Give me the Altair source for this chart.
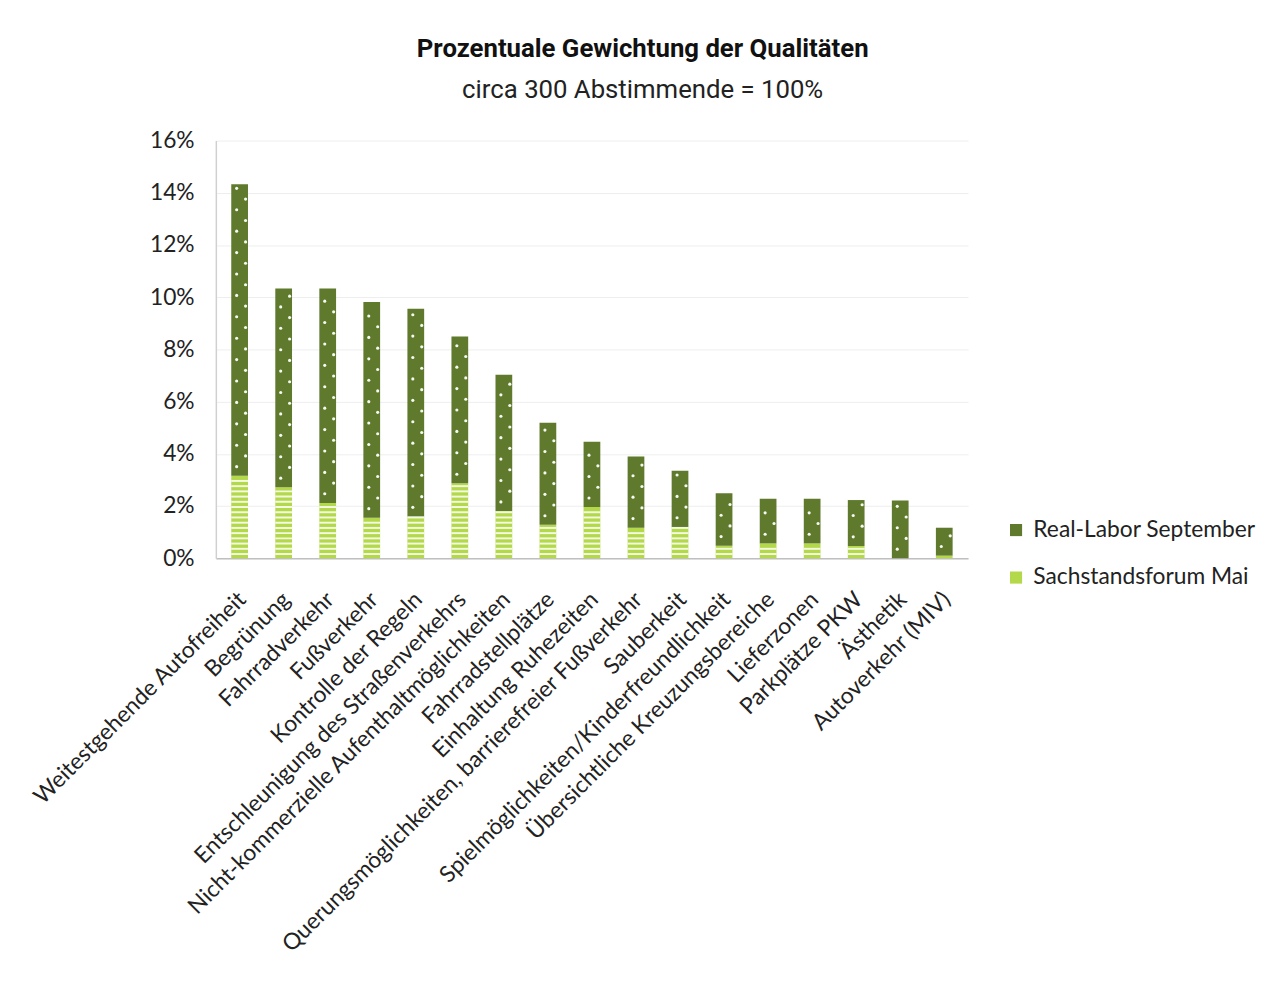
import altair as alt
import pandas as pd

categories = [
    "Weitestgehende Autofreiheit", "Begrünung", "Fahrradverkehr", "Fußverkehr",
    "Kontrolle der Regeln", "Entschleunigung des Straßenverkehrs",
    "Nicht-kommerzielle Aufenthaltmöglichkeiten", "Fahrradstellplätze",
    "Einhaltung Ruhezeiten", "Querungsmöglichkeiten, barrierefreier Fußverkehr",
    "Sauberkeit", "Spielmöglichkeiten/Kinderfreundlichkeit",
    "Übersichtliche Kreuzungsbereiche", "Lieferzonen", "Parkplätze PKW",
    "Ästhetik", "Autoverkehr (MIV)",
]
mai = [3.16, 2.72, 2.12, 1.55, 1.60, 2.87, 1.81, 1.28, 1.96, 1.17, 1.20, 0.48, 0.57, 0.57, 0.47, 0.0, 0.10]
september = [11.17, 7.61, 8.21, 8.27, 7.96, 5.63, 5.22, 3.91, 2.50, 2.73, 2.15, 2.01, 1.71, 1.71, 1.76, 2.21, 1.07]
series_names = ["Real-Labor September", "Sachstandsforum Mai"]
series_colors = ["#5f7a2c", "#b3d84a"]
y_ticks = [0, 2, 4, 6, 8, 10, 12, 14, 16]

rows = []
for c, m, s in zip(categories, mai, september):
    rows.append({"cat": c, "series": series_names[1], "lo": 0.0, "hi": m, "mai": m, "total": m + s})
    rows.append({"cat": c, "series": series_names[0], "lo": m, "hi": m + s, "mai": m, "total": m + s})
df = pd.DataFrame(rows)
wide = pd.DataFrame({"cat": categories, "mai": mai, "total": [m + s for m, s in zip(mai, september)]})

FONT = "Lato"
x_enc = alt.X("cat:N", sort=categories, scale=alt.Scale(paddingInner=0.62, paddingOuter=0.35),
              axis=alt.Axis(title=None, labelAngle=-45, labelFontSize=23, labelFont=FONT,
                            labelColor="#222222", ticks=False, labelPadding=30, labelOffset=-5,
                            domainColor="#bfbfbf", domainWidth=1.5, labelLimit=800))
y_scale = alt.Scale(domain=[0, 16], nice=False)

bars = alt.Chart(df).mark_bar().encode(
    x=x_enc,
    y=alt.Y("lo:Q", scale=y_scale,
            axis=alt.Axis(title=None, values=y_ticks, labelExpr="datum.value + '%'",
                          labelFontSize=23, labelFont=FONT, labelColor="#222222",
                          ticks=False, labelPadding=22, grid=True, gridColor="#eeeeee",
                          domainColor="#d0d0d0", domainWidth=1.5)),
    y2="hi:Q",
    color=alt.Color("series:N",
                    scale=alt.Scale(domain=series_names, range=series_colors),
                    legend=alt.Legend(title=None, orient="none", legendX=797, legendY=382,
                                      labelFontSize=23, labelFont=FONT, labelColor="#222222",
                                      labelLimit=600,
                                      symbolType="square", symbolSize=150, symbolStrokeWidth=0,
                                      rowPadding=24, labelOffset=6)),
)

stripes = alt.Chart(wide).transform_calculate(
    s="sequence(0.2, datum.mai + 0.01, 0.2)"
).transform_flatten(["s"]).transform_calculate(
    s0="datum.s - 0.075"
).mark_bar(color="white", opacity=0.85).encode(
    x=alt.X("cat:N", sort=categories), y="s0:Q", y2="s:Q"
)

dots_left = alt.Chart(wide).transform_calculate(
    d="sequence(datum.mai + 0.35, datum.total - 0.15, 0.82)"
).transform_flatten(["d"]).mark_circle(color="white", size=10, opacity=0.95, xOffset=-3).encode(
    x=alt.X("cat:N", sort=categories), y="d:Q"
)
dots_right = alt.Chart(wide).transform_calculate(
    d="sequence(datum.mai + 0.76, datum.total - 0.15, 0.82)"
).transform_flatten(["d"]).mark_circle(color="white", size=10, opacity=0.95, xOffset=6).encode(
    x=alt.X("cat:N", sort=categories), y="d:Q"
)

chart = alt.layer(bars, stripes, dots_left, dots_right).properties(
    width=760, height=422,
    title=alt.TitleParams(
        text="Prozentuale Gewichtung der Qualitäten",
        subtitle="circa 300 Abstimmende = 100%",
        font="Roboto", fontSize=26, fontWeight="bold", color="#111111",
        subtitleFont="Roboto", subtitleFontSize=26, subtitleColor="#222222",
        subtitlePadding=15, anchor="middle", frame="bounds", offset=27,
    ),
    padding={"left": 21, "top": 24, "right": 5, "bottom": 5},
).configure_view(stroke=None).configure_axisX(grid=False)

chart.save("out.html", embed_options={"renderer": "svg", "actions": False})
